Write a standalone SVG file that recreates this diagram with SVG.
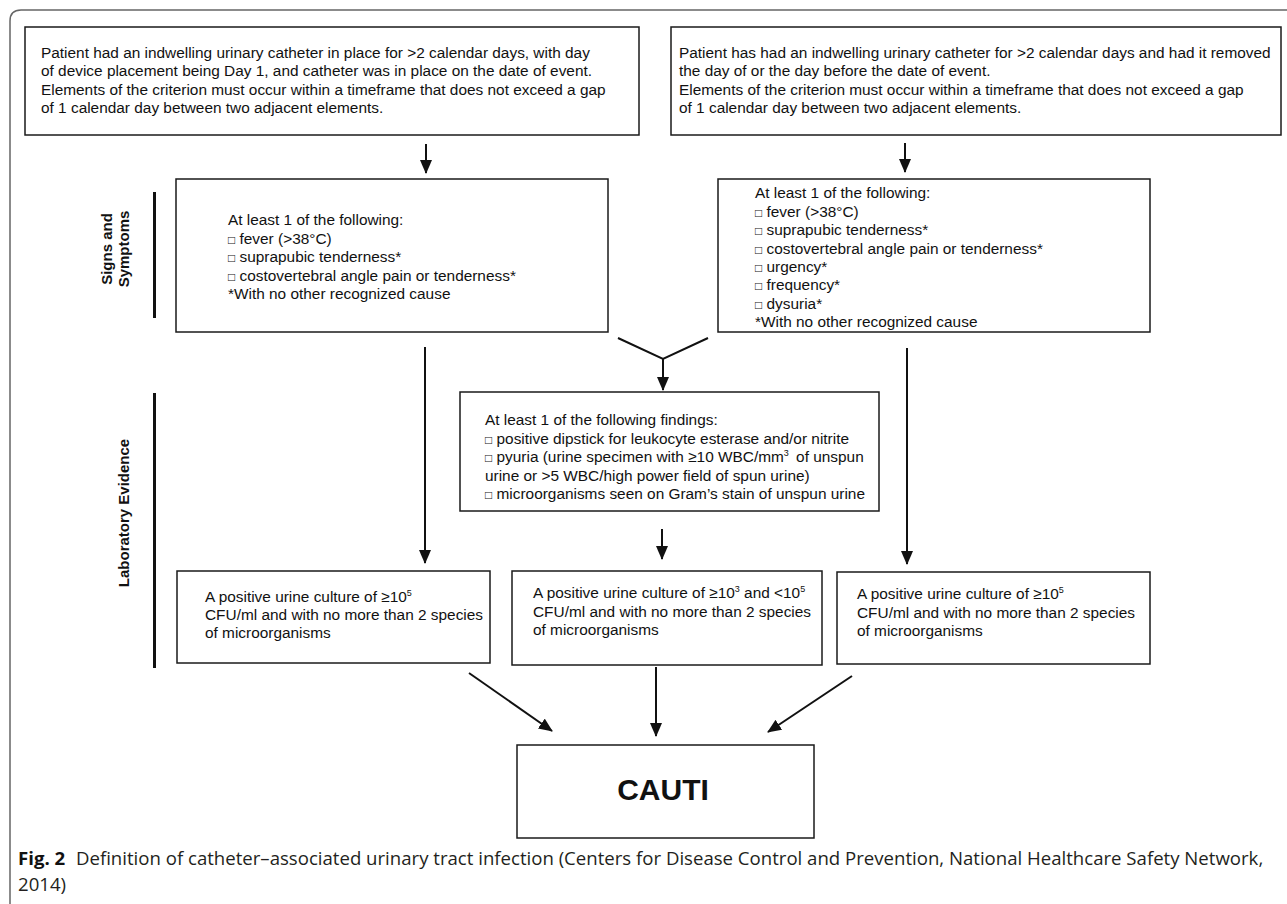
<svg xmlns="http://www.w3.org/2000/svg" width="1287" height="904" viewBox="0 0 1287 904">
<style>
.box{fill:#fff;stroke:#1a1a1a;stroke-width:1.5}
.t{font-family:"Liberation Sans",Arial,sans-serif;font-size:15.4px;fill:#111}
.cb{font-size:12px}
.side{font-family:"Liberation Sans",Arial,sans-serif;font-size:15px;font-weight:bold;fill:#111;text-anchor:middle}
.bar{stroke:#111;stroke-width:3}
.c{stroke:#111;stroke-width:2;fill:none}
.a{marker-end:url(#ah)}
.sup{font-size:9px}
.cap{font-family:"Open Sans","Noto Sans",sans-serif;font-size:18.6px;fill:#231f20}
</style>
<defs>
<marker id="ah" markerUnits="userSpaceOnUse" viewBox="0 0 14 12" refX="13" refY="6" markerWidth="14" markerHeight="12" orient="auto">
<path d="M0,0 L14,6 L0,12 z" fill="#111"/>
</marker>
</defs>
<rect width="1287" height="904" fill="#fff"/>
<path d="M10,904 V21 Q10,10 21,10 H1287" fill="none" stroke="#666" stroke-width="1.5"/>

<g id="box1">
<rect class="box" x="25" y="27" width="614" height="108"/>
<text class="t"><tspan x="41" y="57.5">Patient had an indwelling urinary catheter in place for &gt;2 calendar days, with day</tspan><tspan x="41" y="76">of device placement being Day 1, and catheter was in place on the date of event.</tspan><tspan x="41" y="94.5">Elements of the criterion must occur within a timeframe that does not exceed a gap</tspan><tspan x="41" y="113">of 1 calendar day between two adjacent elements.</tspan></text>
</g>

<g id="box2">
<rect class="box" x="671" y="27" width="610" height="108"/>
<text class="t"><tspan x="679" y="57.5">Patient has had an indwelling urinary catheter for &gt;2 calendar days and had it removed</tspan><tspan x="679" y="76">the day of or the day before the date of event.</tspan><tspan x="679" y="94.5">Elements of the criterion must occur within a timeframe that does not exceed a gap</tspan><tspan x="679" y="113">of 1 calendar day between two adjacent elements.</tspan></text>
</g>

<g id="label-signs">
<text class="side" transform="translate(112,249) rotate(-90)"><tspan x="0" y="0">Signs and</tspan><tspan x="0" y="17">Symptoms</tspan></text>
<line class="bar" x1="154.5" y1="192" x2="154.5" y2="318"/>
</g>

<g id="ss-left">
<rect class="box" x="176" y="179" width="432" height="153"/>
<text class="t"><tspan x="228" y="225">At least 1 of the following:</tspan><tspan x="228" y="244"><tspan class="cb">□</tspan> fever (&gt;38°C)</tspan><tspan x="228" y="262"><tspan class="cb">□</tspan> suprapubic tenderness*</tspan><tspan x="228" y="280.5"><tspan class="cb">□</tspan> costovertebral angle pain or tenderness*</tspan><tspan x="228" y="299">*With no other recognized cause</tspan></text>
</g>

<g id="ss-right">
<rect class="box" x="718" y="179" width="432" height="153"/>
<text class="t"><tspan x="755" y="198">At least 1 of the following:</tspan><tspan x="755" y="217"><tspan class="cb">□</tspan> fever (&gt;38°C)</tspan><tspan x="755" y="235"><tspan class="cb">□</tspan> suprapubic tenderness*</tspan><tspan x="755" y="253.5"><tspan class="cb">□</tspan> costovertebral angle pain or tenderness*</tspan><tspan x="755" y="272"><tspan class="cb">□</tspan> urgency*</tspan><tspan x="755" y="290"><tspan class="cb">□</tspan> frequency*</tspan><tspan x="755" y="309"><tspan class="cb">□</tspan> dysuria*</tspan><tspan x="755" y="327">*With no other recognized cause</tspan></text>
</g>

<g id="label-lab">
<text class="side" transform="translate(129,513) rotate(-90)" x="0" y="0">Laboratory Evidence</text>
<line class="bar" x1="154.5" y1="393" x2="154.5" y2="668"/>
</g>

<g id="lab">
<rect class="box" x="460" y="392" width="419" height="119"/>
<text class="t"><tspan x="485" y="425">At least 1 of the following findings:</tspan><tspan x="485" y="444"><tspan class="cb">□</tspan> positive dipstick for leukocyte esterase and/or nitrite</tspan><tspan x="485" y="462"><tspan class="cb">□</tspan> pyuria (urine specimen with ≥10 WBC/mm</tspan><tspan class="sup" dy="-6">3</tspan><tspan dy="6" dx="3"> of unspun</tspan><tspan x="485" y="481">urine or &gt;5 WBC/high power field of spun urine)</tspan><tspan x="485" y="499"><tspan class="cb">□</tspan> microorganisms seen on Gram’s stain of unspun urine</tspan></text>
</g>

<g id="culture-left">
<rect class="box" x="177" y="571" width="313" height="92"/>
<text class="t"><tspan x="205" y="602">A positive urine culture of ≥10</tspan><tspan class="sup" dy="-6">5</tspan><tspan x="205" y="620">CFU/ml and with no more than 2 species</tspan><tspan x="205" y="638">of microorganisms</tspan></text>
</g>

<g id="culture-mid">
<rect class="box" x="512" y="571" width="310" height="94"/>
<text class="t"><tspan x="533" y="598">A positive urine culture of ≥10</tspan><tspan class="sup" dy="-6">3</tspan><tspan dy="6"> and &lt;10</tspan><tspan class="sup" dy="-6">5</tspan><tspan x="533" y="617">CFU/ml and with no more than 2 species</tspan><tspan x="533" y="635">of microorganisms</tspan></text>
</g>

<g id="culture-right">
<rect class="box" x="837" y="572" width="313" height="92"/>
<text class="t"><tspan x="857" y="599">A positive urine culture of ≥10</tspan><tspan class="sup" dy="-6">5</tspan><tspan x="857" y="618">CFU/ml and with no more than 2 species</tspan><tspan x="857" y="636">of microorganisms</tspan></text>
</g>

<g id="cauti">
<rect class="box" x="517" y="745" width="297" height="93"/>
<text x="663" y="800" text-anchor="middle" font-family="Liberation Sans, Arial, sans-serif" font-size="30" font-weight="bold" fill="#111">CAUTI</text>
</g>

<g id="connectors">
<line class="c a" x1="426" y1="144" x2="426" y2="173"/>
<line class="c a" x1="905" y1="143" x2="905" y2="172"/>
<line class="c a" x1="425" y1="347" x2="425" y2="563"/>
<line class="c a" x1="907" y1="348" x2="907" y2="564"/>
<polyline class="c" points="618,338 663,359 708,338"/>
<line class="c a" x1="663" y1="359" x2="663" y2="390"/>
<line class="c a" x1="662" y1="529" x2="662" y2="559"/>
<line class="c a" x1="469" y1="673" x2="552" y2="731"/>
<line class="c a" x1="656" y1="667" x2="656" y2="736"/>
<line class="c a" x1="852" y1="676" x2="768" y2="732"/>
</g>

<g id="caption">
<text class="cap" x="18" y="865"><tspan font-weight="bold" fill="#111">Fig. 2</tspan><tspan dx="6"> Definition of catheter–associated urinary tract infection (Centers for Disease Control and Prevention, National Healthcare Safety Network,</tspan></text>
<text class="cap" x="18" y="891">2014)</text>
</g>
</svg>
